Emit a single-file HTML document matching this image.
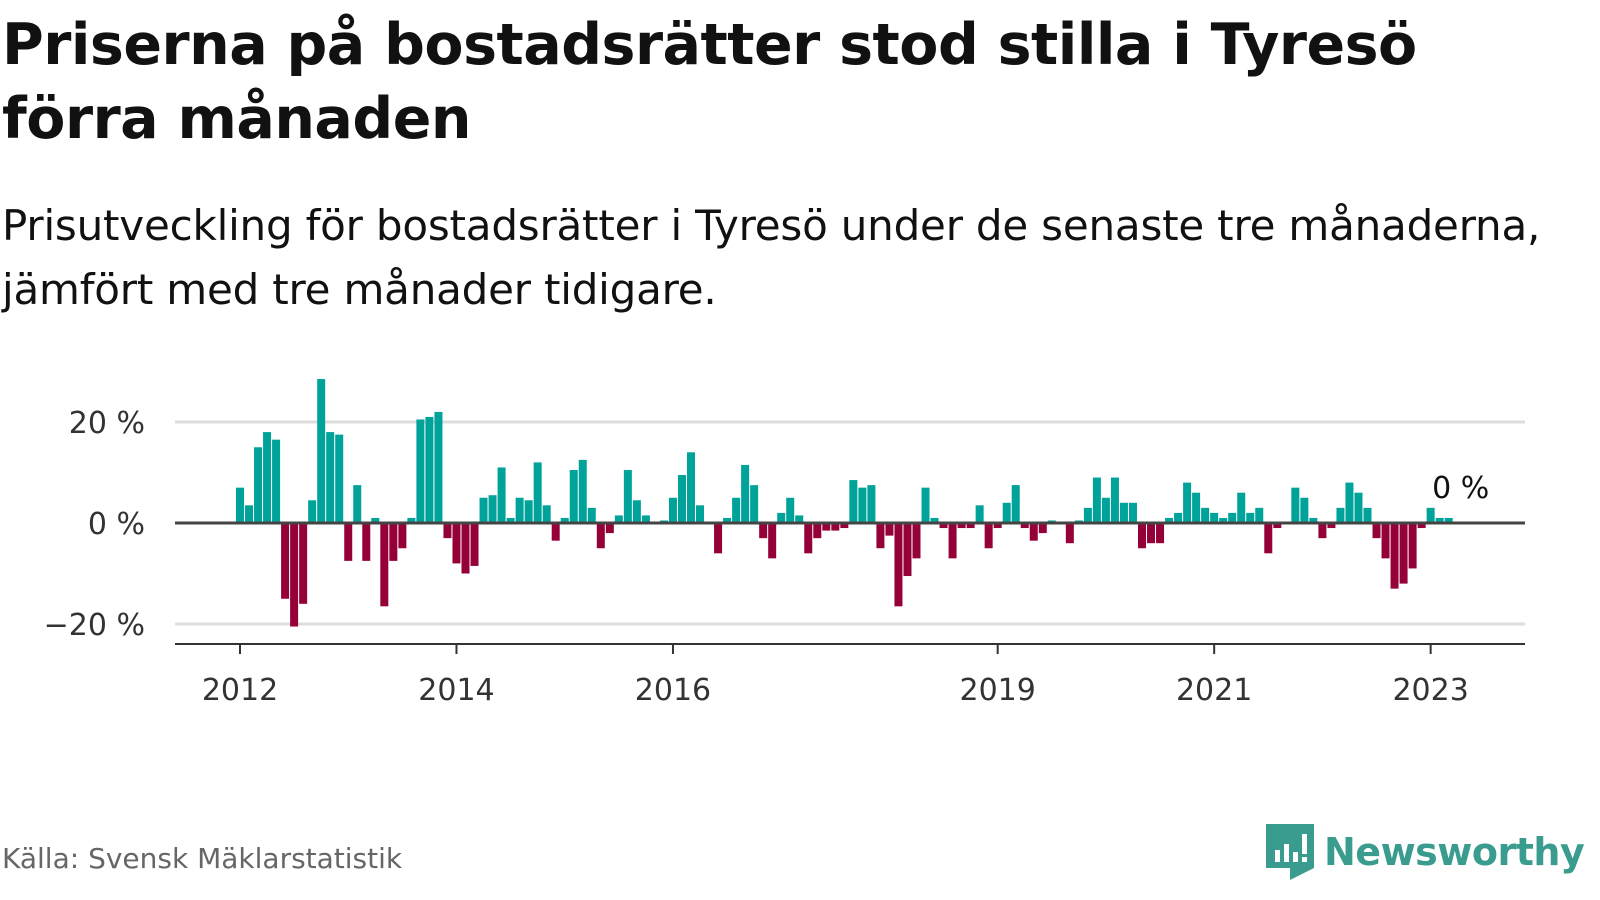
<!DOCTYPE html>
<html><head><meta charset="utf-8"><style>
body{margin:0;width:1600px;height:900px;background:#fff;font-family:"DejaVu Sans","Liberation Sans",sans-serif;overflow:hidden;position:relative}
h1{position:absolute;left:2px;top:8px;margin:0;font-size:57px;line-height:74px;font-weight:bold;color:#111;letter-spacing:-0.5px}
.sub{position:absolute;left:2px;top:194px;font-size:42px;line-height:64px;color:#111;letter-spacing:-0.2px}
.src{position:absolute;left:2px;top:842px;font-size:28px;color:#666}
.logo{position:absolute;left:1266px;top:824px;display:flex;align-items:center}
.logo span{font-size:38px;font-weight:bold;color:#3a9b8f;margin-left:10px;letter-spacing:-0.5px}
</style></head><body>
<h1>Priserna på bostadsrätter stod stilla i Tyresö<br>förra månaden</h1>
<div class="sub">Prisutveckling för bostadsrätter i Tyresö under de senaste tre månaderna,<br>jämfört med tre månader tidigare.</div>
<svg id="chart" width="1600" height="900" style="position:absolute;left:0;top:0"></svg>
<div class="src">Källa: Svensk Mäklarstatistik</div>
<div class="logo">
<svg width="48" height="56" viewBox="0 0 48 56"><path d="M0 0H48V44L24 56V44H0Z" fill="#3a9b8f"/><rect x="9" y="26" width="5" height="12" fill="#fff"/><rect x="18" y="20" width="5" height="18" fill="#fff"/><rect x="27" y="28" width="5" height="10" fill="#fff"/><rect x="36" y="10" width="5" height="20" fill="#fff"/><rect x="36" y="33" width="5" height="5" fill="#fff"/></svg>
<span>Newsworthy</span></div>
<script>
const values=[7,3.5,15,18,16.5,-15,-20.5,-16,4.5,28.5,18,17.5,-7.5,7.5,-7.5,1,-16.5,-7.5,-5,1,20.5,21,22,-3,-8,-10,-8.5,5,5.5,11,1,5,4.5,12,3.5,-3.5,1,10.5,12.5,3,-5,-2,1.5,10.5,4.5,1.5,0,0.5,5,9.5,14,3.5,0,-6,1,5,11.5,7.5,-3,-7,2,5,1.5,-6,-3,-1.5,-1.5,-1,8.5,7,7.5,-5,-2.5,-16.5,-10.5,-7,7,1,-1,-7,-1,-1,3.5,-5,-1,4,7.5,-1,-3.5,-2,0.5,0,-4,0.5,3,9,5,9,4,4,-5,-4,-4,1,2,8,6,3,2,1,2,6,2,3,-6,-1,0,7,5,1,-3,-1,3,8,6,3,-3,-7,-13,-12,-9,-1,3,1,1];
const startYear=2012;
const yTicks=[20,0,-20];
const yTickLabels=["20 %","0 %","\u221220 %"];
const xTickYears=[2012,2014,2016,2019,2021,2023];
const lastLabel="0 %";
const NS="http://www.w3.org/2000/svg",svg=document.getElementById('chart');
const y=v=>523-v*5.05;
const x=m=>240+m*9.02;
const xYear=yr=>x((yr-startYear)*12);
function mk(t,a){const e=document.createElementNS(NS,t);for(const k in a)e.setAttribute(k,a[k]);svg.appendChild(e);return e;}
yTicks.forEach((t,i)=>{
 if(t!==0){const g=mk('line',{x1:175,x2:1525,y1:y(t),y2:y(t),stroke:'#ddd','stroke-width':3});
 
 }
 const l=mk('text',{x:145,y:y(t)+11,'text-anchor':'end','font-size':30,fill:'#333'});
 l.textContent=yTickLabels[i];
 
 
});
values.forEach((v,i)=>{
 const r=mk('rect',{x:x(i)-4,y:Math.min(y(v),y(0)),width:8,height:Math.abs(y(v)-y(0)),fill:v>=0?'#00a39a':'#960039'});
 
 
});
const z=mk('line',{x1:175,x2:1525,y1:y(0),y2:y(0),stroke:'#444','stroke-width':3});


const ax=mk('line',{x1:175,x2:1525,y1:644,y2:644,stroke:'#333','stroke-width':2});


xTickYears.forEach(yr=>{
 const t=mk('line',{x1:xYear(yr),x2:xYear(yr),y1:644,y2:654,stroke:'#333','stroke-width':2});
 
 
 const l=mk('text',{x:xYear(yr),y:700,'text-anchor':'middle','font-size':30,fill:'#333'});
 l.textContent=yr;
 
 
});
const li=values.length-1;
const ll=mk('text',{x:x(li)+12,y:Math.min(y(values[li]),y(0))-20,'text-anchor':'middle','font-size':30,fill:'#111'});
ll.textContent=lastLabel;


</script>
</body></html>
